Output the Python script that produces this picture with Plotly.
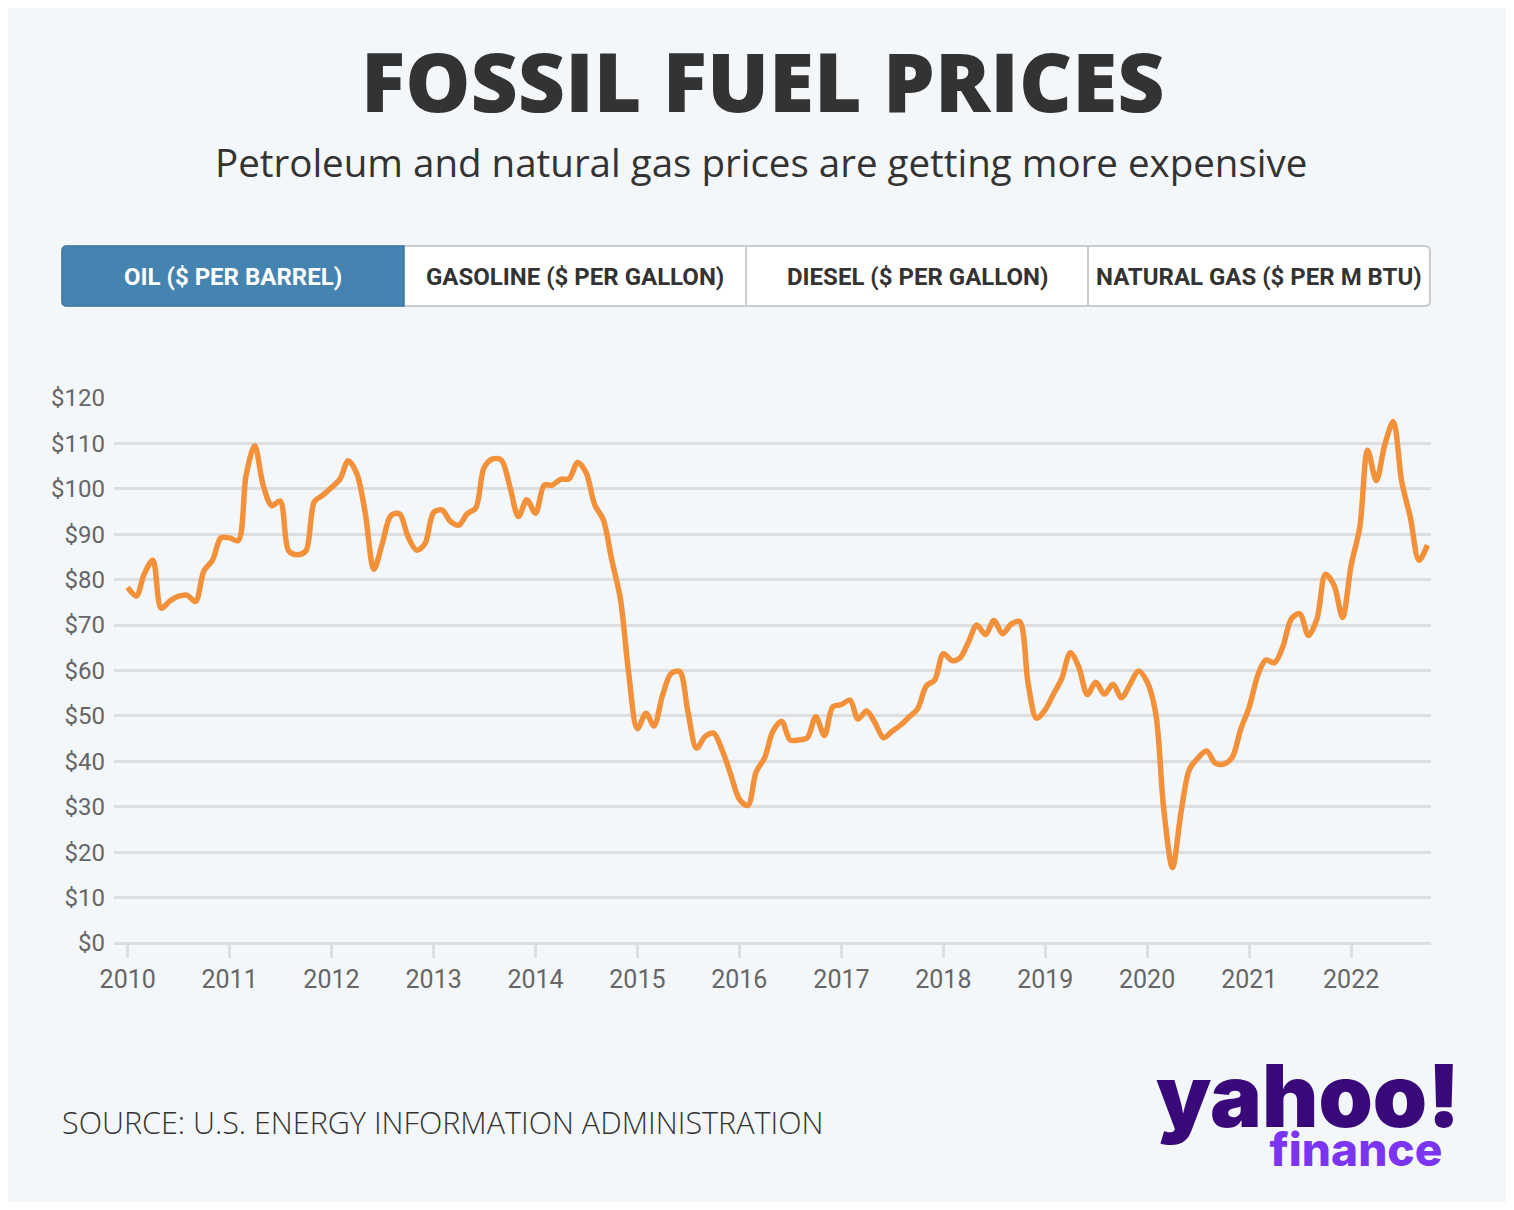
import pandas as pd
import plotly.graph_objects as go

# monthly oil price, $ per barrel (Jan 2010 - Oct 2022)
months = pd.date_range("2010-01-01", "2022-10-01", freq="MS")
oil_2010 = [78.3, 76.4, 81.2, 84.3, 73.7, 75.3, 76.3, 76.6, 75.2, 81.9, 84.3, 89.2]
oil_2011 = [89.2, 88.6, 102.9, 109.5, 100.9, 96.3, 97.3, 86.3, 85.5, 86.3, 97.2, 98.6]
oil_2012 = [100.3, 102.2, 106.2, 103.3, 94.7, 82.3, 87.9, 94.1, 94.5, 89.5, 86.5, 87.9]
oil_2013 = [94.8, 95.3, 92.9, 92.0, 94.5, 95.8, 104.7, 106.6, 106.3, 100.5, 93.9, 97.6]
oil_2014 = [94.6, 100.8, 100.8, 102.1, 102.2, 105.8, 103.6, 96.5, 93.2, 84.4, 75.8, 59.3]
oil_2015 = [47.2, 50.6, 47.8, 54.5, 59.3, 59.8, 50.9, 42.9, 45.5, 46.2, 42.4, 37.2]
oil_2016 = [31.7, 30.3, 37.6, 40.8, 46.7, 48.8, 44.7, 44.7, 45.2, 49.8, 45.7, 52.0]
oil_2017 = [52.5, 53.5, 49.3, 51.1, 48.5, 45.2, 46.6, 48.0, 49.8, 51.6, 56.6, 57.9]
oil_2018 = [63.7, 62.2, 62.7, 66.3, 70.0, 67.9, 71.0, 68.1, 70.2, 70.8, 57.0, 49.5]
oil_2019 = [51.4, 55.0, 58.2, 63.9, 60.8, 54.7, 57.4, 54.8, 57.0, 54.0, 57.0, 59.9]
oil_2020 = [57.5, 50.5, 29.2, 16.6, 28.6, 38.3, 40.7, 42.3, 39.6, 39.4, 40.9, 47.0]
oil_2021 = [52.0, 59.0, 62.3, 61.7, 65.2, 71.4, 72.5, 67.7, 71.5, 81.2, 78.7, 71.7]
oil_2022 = [83.2, 91.6, 108.5, 101.8, 109.6, 114.8, 101.6, 93.7, 84.3, 87.6]
oil = (oil_2010 + oil_2011 + oil_2012 + oil_2013 + oil_2014 + oil_2015 + oil_2016
       + oil_2017 + oil_2018 + oil_2019 + oil_2020 + oil_2021 + oil_2022)

years = list(range(2010, 2023))
y_ticks = list(range(0, 121, 10))
tabs = ["OIL ($ PER BARREL)", "GASOLINE ($ PER GALLON)", "DIESEL ($ PER GALLON)", "NATURAL GAS ($ PER M BTU)"]

# the page puts the figure 8px in from the top-left corner, so the figure is a bit smaller
OFF = 8
W, H = 1514 - 2 * OFF, 1210 - 2 * OFF
L, R, T, B = 114, 1431, 398, 943  # plot area, in page pixels

BG = "#F4F7FA"
ORANGE = "#F3913A"
BLUE = "#4584B0"
DARK = "#333333"
GRID = "#DEDEDE"
COND = "Roboto"


def px(x):
    return (x - L) / (R - L)


def py(y):
    return (B - y) / (B - T)


fig = go.Figure()
fig.add_trace(go.Scatter(
    x=months, y=oil, mode="lines",
    line=dict(color=ORANGE, width=5.5, shape="spline", smoothing=0.9),
    hovertemplate="%{x|%b %Y}: $%{y:.2f}<extra></extra>",
))

# tab bar
tx0, tx1, ty0, ty1 = 62, 1430, 246, 306
edges = [tx0 + i * (tx1 - tx0) / 4 for i in range(5)]
rad = 5


def rounded(x0, y0, x1, y1, left=True, right=True):
    rl = rad if left else 0
    rr = rad if right else 0
    pts = [
        f"M {px(x0 + rl)} {py(y0)}",
        f"L {px(x1 - rr)} {py(y0)}",
        f"Q {px(x1)} {py(y0)} {px(x1)} {py(y0 + rr)}",
        f"L {px(x1)} {py(y1 - rr)}",
        f"Q {px(x1)} {py(y1)} {px(x1 - rr)} {py(y1)}",
        f"L {px(x0 + rl)} {py(y1)}",
        f"Q {px(x0)} {py(y1)} {px(x0)} {py(y1 - rl)}",
        f"L {px(x0)} {py(y0 + rl)}",
        f"Q {px(x0)} {py(y0)} {px(x0 + rl)} {py(y0)} Z",
    ]
    return " ".join(pts)


shapes = [
    dict(type="path", xref="paper", yref="paper", path=rounded(tx0, ty0, tx1, ty1),
         fillcolor="white", line=dict(color="#CCCCCC", width=2), layer="below"),
    dict(type="path", xref="paper", yref="paper", path=rounded(edges[0], ty0, edges[1], ty1, right=False),
         fillcolor=BLUE, line=dict(color="#3D77A0", width=1.5), layer="below"),
]
for e in edges[2:4]:
    shapes.append(dict(type="line", xref="paper", yref="paper", x0=px(e), x1=px(e), y0=py(ty0), y1=py(ty1),
                       line=dict(color="#CCCCCC", width=2), layer="below"))

annotations = []
for i, t in enumerate(tabs):
    annotations.append(dict(
        text=f"<b>{t}</b>", x=px((edges[i] + edges[i + 1]) / 2), y=py(277),
        xref="paper", yref="paper", showarrow=False, xanchor="center", yanchor="middle",
        font=dict(family=COND, size=24, color="white" if i == 0 else DARK),
    ))

# logo as one two-line text so the lines can sit close together
logo = ("<span style='font-size:87px;font-weight:900;color:#39097A'>yahoo!</span><br>"
        "<span style='font-size:46px;font-weight:800;color:#7B35F0'>finance</span>"
        "<span style='font-size:64px'>&nbsp;</span>")

annotations += [
    dict(text="FOSSIL FUEL PRICES", x=px(762), y=py(80), xref="paper", yref="paper",
         showarrow=False, xanchor="center", yanchor="middle",
         font=dict(family="Open Sans", size=82, color=DARK, weight=800)),
    dict(text="Petroleum and natural gas prices are getting more expensive", x=px(761), y=py(162),
         xref="paper", yref="paper", showarrow=False, xanchor="center", yanchor="middle",
         font=dict(family="Open Sans", size=38.5, color=DARK)),
    dict(text="SOURCE: U.S. ENERGY INFORMATION ADMINISTRATION", x=px(60), y=py(1122),
         xref="paper", yref="paper", showarrow=False, xanchor="left", yanchor="middle",
         font=dict(family="Open Sans", size=30.5, color=DARK, weight=300)),
    dict(text=logo, x=px(1462), y=py(1112), xref="paper", yref="paper",
         showarrow=False, xanchor="right", yanchor="middle", align="right",
         font=dict(family="Inter", size=30, color="#39097A")),
]

fig.update_layout(
    width=W, height=H,
    margin=dict(l=L - OFF, r=W - (R - OFF), t=T - OFF, b=H - (B - OFF)),
    paper_bgcolor=BG, plot_bgcolor=BG,
    showlegend=False,
    shapes=shapes, annotations=annotations,
    font=dict(family=COND, color="#666666"),
    xaxis=dict(
        range=["2009-11-13", "2022-10-14"],
        tickvals=[f"{y}-01-01" for y in years], ticktext=[str(y) for y in years],
        ticks="outside", ticklen=14, tickwidth=2.5, tickcolor=GRID,
        showgrid=False, zeroline=False, showline=False,
        tickfont=dict(size=25, color="#666666"),
    ),
    yaxis=dict(
        range=[0, 120],
        tickvals=y_ticks, ticktext=[f"${v}" for v in y_ticks],
        gridcolor=GRID, gridwidth=2.5,
        zeroline=True, zerolinecolor=GRID, zerolinewidth=2.5,
        showline=False, ticks="", ticklabelstandoff=8,
        tickfont=dict(size=24, color="#666666"),
    ),
)

fig.write_html("out.html")
